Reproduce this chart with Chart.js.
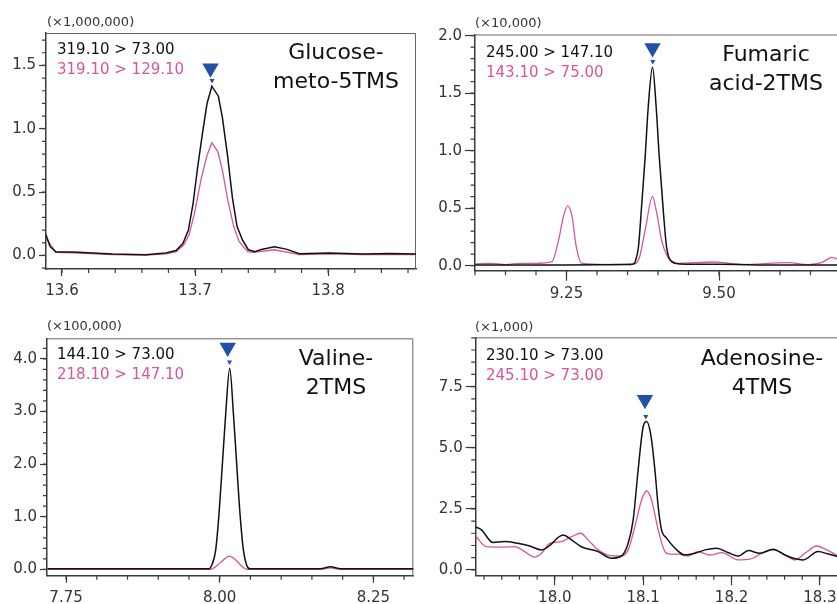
<!DOCTYPE html>
<html>
<head>
<meta charset="utf-8">
<script src="https://cdn.jsdelivr.net/npm/chart.js@4"></script>
<style>
  html, body { margin: 0; padding: 0; background: #fff; }
  body { width: 837px; height: 604px; overflow: hidden; position: relative; font-family: "DejaVu Sans", sans-serif; }
  .panel { position: absolute; overflow: hidden; }
  .unit { position: absolute; font-size: 13px; line-height: 1; color: #333; white-space: nowrap; }
  .trans { position: absolute; font-size: 15px; line-height: 20px; color: #111; white-space: nowrap; }
  .trans .q { color: #d5559e; }
  .name { position: absolute; width: 180px; font-size: 22px; line-height: 29px; text-align: center; color: #111; white-space: nowrap; }
</style>
</head>
<body>

<div class="panel" style="left:0;top:0;width:420px;height:300px"><canvas id="glc" width="420" height="300"></canvas></div>
<div class="panel" style="left:418px;top:0;width:419px;height:300px"><canvas id="fum" width="430" height="300"></canvas></div>
<div class="panel" style="left:0;top:300px;width:420px;height:304px"><canvas id="val" width="420" height="304"></canvas></div>
<div class="panel" style="left:418px;top:300px;width:419px;height:304px"><canvas id="ade" width="430" height="304"></canvas></div>

<div class="unit" style="left:47px;top:15px">(×1,000,000)</div>
<div class="trans" style="left:57px;top:39px">319.10 &gt; 73.00<br><span class="q">319.10 &gt; 129.10</span></div>
<div class="name" style="left:246px;top:37px">Glucose-<br>meto-5TMS</div>

<div class="unit" style="left:475px;top:16px">(×10,000)</div>
<div class="trans" style="left:486px;top:41.5px">245.00 &gt; 147.10<br><span class="q">143.10 &gt; 75.00</span></div>
<div class="name" style="left:676px;top:39px">Fumaric<br>acid-2TMS</div>

<div class="unit" style="left:47px;top:319px">(×100,000)</div>
<div class="trans" style="left:57px;top:344px">144.10 &gt; 73.00<br><span class="q">218.10 &gt; 147.10</span></div>
<div class="name" style="left:246px;top:343px">Valine-<br>2TMS</div>

<div class="unit" style="left:475px;top:320px">(×1,000)</div>
<div class="trans" style="left:486px;top:345px">230.10 &gt; 73.00<br><span class="q">245.10 &gt; 73.00</span></div>
<div class="name" style="left:672px;top:343px">Adenosine-<br>4TMS</div>

<script>
// Glucose-meto-5TMS, intensity x1,000,000
const glcTargetX = [13.588, 13.591, 13.5955, 13.608, 13.638, 13.663, 13.678, 13.6857, 13.691, 13.695, 13.6985, 13.702, 13.7055, 13.709, 13.7126, 13.7175, 13.7205, 13.7245, 13.728, 13.7315, 13.7355, 13.740, 13.745, 13.749, 13.7596, 13.7684, 13.7784, 13.801, 13.826, 13.846, 13.866];
const glcTargetY = [0.163, 0.071, 0.027, 0.027, 0.011, 0.006, 0.019, 0.039, 0.097, 0.2, 0.41, 0.70, 0.96, 1.20, 1.336, 1.257, 1.09, 0.78, 0.46, 0.23, 0.124, 0.045, 0.03, 0.045, 0.068, 0.05, 0.013, 0.019, 0.011, 0.016, 0.011];
const glcQualX = [13.588, 13.5955, 13.608, 13.638, 13.663, 13.678, 13.686, 13.6915, 13.6955, 13.6995, 13.7045, 13.709, 13.7126, 13.7171, 13.7205, 13.7245, 13.729, 13.733, 13.7395, 13.744, 13.7596, 13.7784, 13.801, 13.826, 13.866];
const glcQualY = [0.137, 0.024, 0.02, 0.006, 0.002, 0.012, 0.03, 0.084, 0.163, 0.33, 0.60, 0.79, 0.89, 0.82, 0.675, 0.44, 0.23, 0.11, 0.03, 0.024, 0.045, 0.006, 0.012, 0.006, 0.006];
const glcMarkX = [13.7116, 13.7128];
const glcMarkY = [1.477, 1.382];
const glcXTicks = ['13.6', '13.7', '13.8'];
const glcYTicks = ['0.0', '0.5', '1.0', '1.5'];

// Fumaric acid-2TMS, intensity x10,000
const fumTargetX = [9.10, 9.20, 9.30, 9.355, 9.360, 9.3625, 9.368, 9.373, 9.379, 9.384, 9.391, 9.397, 9.402, 9.409, 9.414, 9.423, 9.436, 9.50, 9.60, 9.70];
const fumTargetY = [0.005, 0.005, 0.008, 0.01, 0.015, 0.035, 0.165, 0.51, 0.95, 1.38, 1.725, 1.38, 0.95, 0.455, 0.165, 0.035, 0.015, 0.012, 0.005, 0.005];
const fumQualX = [9.1005, 9.125, 9.15, 9.175, 9.1987, 9.226, 9.237, 9.245, 9.252, 9.259, 9.266, 9.275, 9.319, 9.362, 9.370, 9.379, 9.391, 9.398, 9.406, 9.417, 9.428, 9.4935, 9.507, 9.537, 9.6135, 9.646, 9.668, 9.685, 9.70];
const fumQualY = [0.015, 0.02, 0.01, 0.02, 0.02, 0.035, 0.22, 0.43, 0.52, 0.43, 0.165, 0.02, 0.01, 0.015, 0.08, 0.31, 0.60, 0.455, 0.22, 0.065, 0.02, 0.032, 0.026, 0.01, 0.026, 0.01, 0.026, 0.073, 0.04];
const fumMarkX = [9.391, 9.3915];
const fumMarkY = [1.892, 1.776];
const fumXTicks = ['9.25', '9.50'];
const fumYTicks = ['0.0', '0.5', '1.0', '1.5', '2.0'];

// Valine-2TMS, intensity x100,000
const valTargetX = [7.7198, 7.95, 7.9826, 7.9881, 7.9935, 7.9989, 8.0044, 8.0098, 8.0163, 8.0223, 8.0276, 8.033, 8.0385, 8.0439, 8.0493, 8.10, 8.164, 8.18, 8.197, 8.316];
const valTargetY = [0.01, 0.01, 0.01, 0.11, 0.37, 1.06, 2.01, 2.96, 3.82, 2.96, 2.01, 1.06, 0.37, 0.08, 0.01, 0.01, 0.01, 0.05, 0.01, 0.01];
const valQualX = [7.7198, 7.9854, 7.9963, 8.007, 8.0163, 8.026, 8.0369, 8.045, 8.164, 8.18, 8.197, 8.316];
const valQualY = [0.0, 0.0, 0.08, 0.19, 0.25, 0.18, 0.05, 0.0, 0.0, 0.03, 0.0, 0.0];
const valMarkX = [8.013, 8.016];
const valMarkY = [4.215, 3.94];
const valXTicks = ['7.75', '8.00', '8.25'];
const valYTicks = ['0.0', '1.0', '2.0', '3.0', '4.0'];

// Adenosine-4TMS, intensity x1,000
const adeTargetX = [17.9094, 17.917, 17.930, 17.943, 17.958, 17.9717, 17.985, 17.9924, 18.0094, 18.0189, 18.030, 18.049, 18.064, 18.0755, 18.083, 18.0887, 18.0943, 18.100, 18.1039, 18.1087, 18.1133, 18.117, 18.1208, 18.1265, 18.136, 18.147, 18.1585, 18.170, 18.183, 18.196, 18.2076, 18.219, 18.232, 18.247, 18.2605, 18.270, 18.281, 18.298, 18.3095, 18.325];
const adeTargetY = [1.77, 1.64, 1.12, 1.16, 1.09, 0.98, 0.82, 0.95, 1.43, 1.23, 0.95, 0.75, 0.48, 0.57, 1.09, 2.05, 4.09, 5.86, 6.07, 5.52, 4.09, 2.59, 1.64, 1.30, 0.89, 0.61, 0.68, 0.82, 0.89, 0.71, 0.57, 0.79, 0.68, 0.85, 0.61, 0.48, 0.41, 0.75, 0.65, 0.50];
const adeQualX = [17.9094, 17.9226, 17.9396, 17.9547, 17.966, 17.9773, 17.985, 17.9943, 18.0076, 18.0189, 18.0294, 18.0377, 18.049, 18.060, 18.0755, 18.083, 18.0906, 18.0982, 18.1039, 18.1095, 18.117, 18.1246, 18.130, 18.1396, 18.151, 18.162, 18.1755, 18.189, 18.2076, 18.2208, 18.236, 18.247, 18.2605, 18.272, 18.283, 18.2964, 18.306, 18.325];
const adeQualY = [1.43, 0.95, 0.93, 0.95, 0.75, 0.52, 0.68, 1.09, 1.16, 1.36, 1.50, 1.23, 0.82, 0.61, 0.57, 0.82, 1.77, 2.86, 3.23, 2.86, 1.64, 0.75, 0.65, 0.65, 0.57, 0.75, 0.61, 0.71, 0.41, 0.44, 0.71, 0.82, 0.61, 0.41, 0.68, 0.98, 0.85, 0.48];
const adeMarkX = [18.102, 18.103];
const adeMarkY = [6.966, 6.28];
const adeXTicks = ['18.0', '18.1', '18.2', '18.3'];
const adeYTicks = ['0.0', '2.5', '5.0', '7.5'];

const PINK = '#d5559e';
const BLUE = '#2151a6';
const AXIS = '#3a3a3a';
const FONT = { family: 'DejaVu Sans', size: 15 };

const pts = (xs, ys) => xs.map((x, i) => ({ x: x, y: ys[i] }));

// top/right frame lines + minor tick marks (Chart.js only draws the major ones)
const panelFrame = {
    id: 'panelFrame',
    beforeDatasetsDraw(chart) {
        const a = chart.chartArea, c = chart.ctx;
        c.save();
        c.strokeStyle = '#666';
        c.lineWidth = 1;
        c.beginPath();
        c.moveTo(a.left, a.top + 0.5);
        c.lineTo(a.right - 0.5, a.top + 0.5);
        c.lineTo(a.right - 0.5, a.bottom);
        c.stroke();
        c.restore();
    },
    afterDraw(chart, args, o) {
        const a = chart.chartArea, c = chart.ctx;
        const xs = chart.scales.x, ys = chart.scales.y;
        c.save();
        c.strokeStyle = AXIS;
        c.lineWidth = 1.2;
        c.beginPath();
        for (let k = Math.ceil(xs.min / o.xMinor - 1e-6); k * o.xMinor <= xs.max + 1e-9; k++) {
            const px = xs.getPixelForValue(k * o.xMinor);
            c.moveTo(px, a.bottom);
            c.lineTo(px, a.bottom + o.minorLen);
        }
        for (let k = Math.ceil(ys.min / o.yMinor - 1e-6); k * o.yMinor <= ys.max + 1e-9; k++) {
            const py = ys.getPixelForValue(k * o.yMinor);
            c.moveTo(a.left, py);
            c.lineTo(a.left - o.minorLen, py);
        }
        c.stroke();
        c.restore();
    }
};

function makePanel(id, p) {
    const smooth = p.smooth ? { tension: 0.4, cubicInterpolationMode: 'monotone' } : { tension: 0 };
    return new Chart(document.getElementById(id), {
        type: 'line',
        data: {
            datasets: [
                {
                    type: 'scatter',
                    data: pts(p.markX, p.markY),
                    pointStyle: 'triangle',
                    rotation: 180,
                    pointRadius: [9.5, 3],
                    backgroundColor: BLUE,
                    borderWidth: 0
                },
                Object.assign({ data: pts(p.targetX, p.targetY), borderColor: '#111', borderWidth: 1.5, pointRadius: 0 }, smooth),
                Object.assign({ data: pts(p.qualX, p.qualY), borderColor: PINK, borderWidth: 1.3, pointRadius: 0 }, smooth)
            ]
        },
        options: {
            responsive: false,
            animation: false,
            devicePixelRatio: 1,
            // the big marker would otherwise push the right edge in
            layout: { autoPadding: false, padding: { top: p.padTop, right: p.padRight, left: 0, bottom: 0 } },
            plugins: {
                legend: { display: false },
                tooltip: { enabled: false },
                panelFrame: { xMinor: p.xMinor, yMinor: p.yMinor, minorLen: p.minorLen }
            },
            scales: {
                x: {
                    type: 'linear',
                    min: p.xMin,
                    max: p.xMax,
                    afterBuildTicks: s => { s.ticks = p.xTicks.map(t => ({ value: parseFloat(t) })); },
                    afterFit: s => { s.height = p.xh; s.paddingLeft = 0; s.paddingRight = 0; },
                    ticks: { callback: (v, i) => p.xTicks[i], autoSkip: false, maxRotation: 0, font: FONT, color: '#333', padding: p.xPad },
                    grid: { drawOnChartArea: false, tickLength: p.majorLen, tickColor: AXIS, tickWidth: 1.2 },
                    border: { color: AXIS, width: 1.5 }
                },
                y: {
                    type: 'linear',
                    min: p.yMin,
                    max: p.yMax,
                    afterBuildTicks: s => { s.ticks = p.yTicks.map(t => ({ value: parseFloat(t) })); },
                    afterFit: s => { s.width = p.yw; },
                    ticks: { callback: (v, i) => p.yTicks[i], autoSkip: false, font: FONT, color: '#333', padding: 3 },
                    grid: { drawOnChartArea: false, tickLength: p.majorLen, tickColor: AXIS, tickWidth: 1.2 },
                    border: { color: AXIS, width: 1.5 }
                }
            }
        },
        plugins: [panelFrame]
    });
}

makePanel('glc', {
    targetX: glcTargetX, targetY: glcTargetY, qualX: glcQualX, qualY: glcQualY,
    markX: glcMarkX, markY: glcMarkY, xTicks: glcXTicks, yTicks: glcYTicks,
    xMin: 13.588, xMax: 13.866, yMin: -0.107, yMax: 1.756,
    xMinor: 0.02, yMinor: 0.1, majorLen: 7, minorLen: 4, xPad: 6,
    yw: 46, xh: 31, padTop: 33, padRight: 4, smooth: false
});

makePanel('fum', {
    targetX: fumTargetX, targetY: fumTargetY, qualX: fumQualX, qualY: fumQualY,
    markX: fumMarkX, markY: fumMarkY, xTicks: fumXTicks, yTicks: fumYTicks,
    xMin: 9.10, xMax: 9.70, yMin: -0.0435, yMax: 2.01,
    xMinor: 0.05, yMinor: 0.1, majorLen: 10, minorLen: 4.5, xPad: 4,
    yw: 57, xh: 29.3, padTop: 34.5, padRight: 7, smooth: true
});

makePanel('val', {
    targetX: valTargetX, targetY: valTargetY, qualX: valQualX, qualY: valQualY,
    markX: valMarkX, markY: valMarkY, xTicks: valXTicks, yTicks: valYTicks,
    xMin: 7.719, xMax: 8.315, yMin: -0.12, yMax: 4.39,
    xMinor: 0.05, yMinor: 0.2, majorLen: 7, minorLen: 4, xPad: 6,
    yw: 47, xh: 28.3, padTop: 38.3, padRight: 6.7, smooth: true
});

makePanel('ade', {
    targetX: adeTargetX, targetY: adeTargetY, qualX: adeQualX, qualY: adeQualY,
    markX: adeMarkX, markY: adeMarkY, xTicks: adeXTicks, yTicks: adeYTicks,
    xMin: 17.9105, xMax: 18.325, yMin: -0.22, yMax: 9.52,
    xMinor: 0.02, yMinor: 0.5, majorLen: 10, minorLen: 4.5, xPad: 4,
    yw: 57.7, xh: 28.7, padTop: 37.3, padRight: 6, smooth: true
});
</script>
</body>
</html>
